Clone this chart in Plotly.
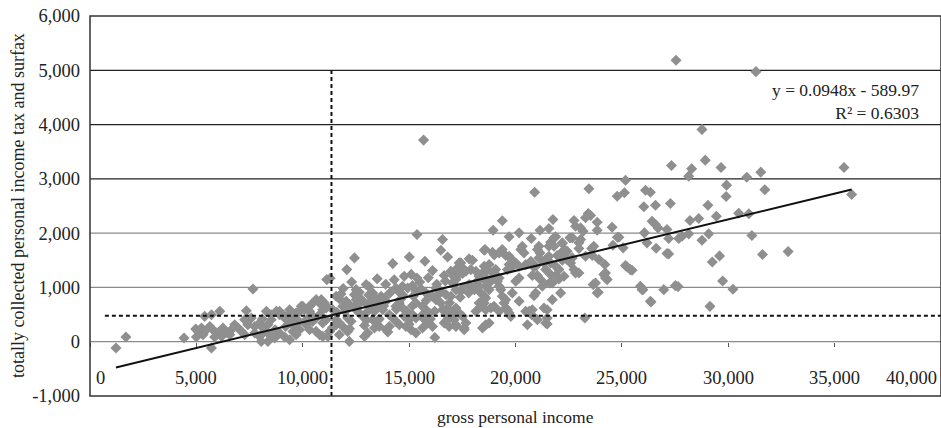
import plotly.graph_objects as go

# ---------------- data ----------------
# gross personal income (x) and totally collected tax (y), grouped by region
income_right = [27545, 31300, 15680, 28765, 28920, 27330, 28280, 28140, 29660, 30870,
                31530, 35440, 35800, 29920, 29900, 31720, 27280, 29045, 29440, 30490,
                30970, 28200, 28610, 27670, 27830, 28140, 28765, 29080, 31110, 27200,
                27200, 29250, 29590, 31610, 32815, 29735, 30220, 27515, 27640, 29140]
tax_right = [5184, 4975, 3714, 3911, 3345, 3247, 3186, 3050, 3210, 3031,
             3124, 3210, 2712, 2884, 2675, 2799, 2546, 2515, 2312, 2367,
             2356, 2232, 2269, 1900, 1943, 1987, 1869, 1987, 1956, 1900,
             1618, 1470, 1581, 1605, 1660, 1120, 965, 1033, 1015, 651]

income_upper = [25170, 23450, 20900, 24780, 25120, 26110, 26340, 26030, 26580, 23420,
                23530, 23290, 23840, 24540, 22750, 22820, 23060, 23180, 23840, 21760,
                19380, 18950, 21150, 21570, 20170, 19700, 20740, 21890, 22560, 23060,
                24790, 26060, 26420, 26580, 26700, 27120, 26180, 26610, 27120, 25060,
                24580, 23680, 23580, 22980, 22430, 22310, 22120, 21960, 22200, 21570,
                21100, 21030, 21150, 20320, 20250, 20400, 19380, 19230, 19540, 18570,
                18920, 19000, 19700, 19820, 21570, 21420, 21650, 22040, 22200, 22430,
                23610, 25250, 25480, 19700, 19780, 19620, 20790, 20870, 21420, 21890,
                22040, 22750, 22820, 18530, 18680, 19070, 24200, 18450, 18600, 19070,
                19230, 19150, 20170, 20010, 20790, 21030, 21100, 21890, 22040, 21600,
                21340, 21260, 24150, 24230, 23650, 23890, 25870, 25990, 26970, 26370,
                18600, 18760, 18370, 18530, 18450, 19230, 19310, 19380, 19540, 19460,
                19850, 19620, 19700, 18840, 18760, 20560, 20640, 20760, 21490, 21490,
                20870, 20950, 23260]
tax_upper = [2976, 2817, 2755, 2681, 2743, 2791, 2755, 2485, 2515, 2362,
             2325, 2282, 2201, 2109, 2232, 2128, 2097, 2035, 2054, 2251,
             2227, 2054, 2054, 2085, 2005, 1932, 1900, 1932, 1913, 1882,
             1925, 2005, 2220, 2159, 2097, 2066, 1821, 1721, 1624, 1729,
             1777, 1758, 1716, 1716, 1666, 1697, 1624, 1587, 1821, 1758,
             1758, 1697, 1636, 1758, 1697, 1636, 1697, 1636, 1587, 1697,
             1648, 1600, 1574, 1513, 1574, 1513, 1452, 1574, 1500, 1513,
             1587, 1378, 1316, 1421, 1360, 1328, 1439, 1378, 1328, 1390,
             1328, 1328, 1267, 1390, 1328, 1328, 1421, 1205, 1175, 1236,
             1175, 1113, 1175, 1113, 1218, 1218, 1175, 1218, 1157, 1083,
             1083, 1020, 1236, 1175, 1052, 910, 1020, 959, 959, 732,
             1020, 959, 898, 836, 744, 1020, 959, 836, 775, 714,
             898, 590, 529, 622, 345, 314, 559, 498, 590, 327,
             849, 898, 437]

income_mid = [15370, 16570, 16490, 18530, 12430, 12070, 14230, 15010, 15740, 16810,
              16100, 17430, 17820, 17980, 11130, 11290, 17200, 17350, 17510, 17670,
              17900, 14770, 15370, 16650, 17200, 17040, 18450, 18600, 12980, 13130,
              12510, 12660, 12430, 11570, 11720, 14380, 14540, 13680, 13840, 13920,
              13600, 13450, 13290, 14690, 14930, 15160, 15320, 15560, 15790, 16260,
              16490, 16730, 16960, 16100, 17200, 17430, 17820, 18060, 18210, 10870,
              11020, 11100, 10630, 10470, 10320, 10000, 10080, 9850, 9690, 9540,
              9380, 9460, 9380, 9690, 9850, 9690, 9540, 10160, 10320, 10630,
              10790, 10940, 11260, 11180, 11570, 11720, 11880, 11570, 12110, 12270,
              12110, 12190, 12510, 12660, 12820, 13050, 13210, 13370, 12980, 12900,
              13050, 13290, 13450, 13600, 13370, 14070, 14230, 14380, 14540, 14070,
              13920, 14770, 15010, 15160, 15320, 14850, 15090, 15320, 15630, 15790,
              15950, 15630, 15630, 15870, 16100, 16210, 16570, 16730, 16810, 16650,
              17200, 17350, 17510, 17670, 17590, 18140, 18370, 18530, 18600, 16260,
              16490, 15320, 15160, 14540, 14380, 14690, 13450, 13760, 12040, 12190,
              11880, 12510, 12740, 10940, 10790, 10630, 10470, 10320, 11410, 11100,
              10940, 11720, 18450, 18600, 17200]
tax_mid = [1974, 1882, 1685, 1685, 1544, 1328, 1439, 1562, 1482, 1562,
           1310, 1452, 1526, 1500, 1144, 1168, 1328, 1279, 1255, 1297,
           1328, 1205, 1175, 1218, 1144, 1083, 1267, 1144, 1052, 1009,
           959, 910, 867, 836, 793, 991, 910, 836, 806, 744,
           744, 788, 898, 1020, 991, 1033, 928, 972, 898, 991,
           928, 867, 836, 836, 959, 928, 1052, 991, 1113, 775,
           714, 651, 775, 714, 651, 651, 590, 559, 529, 498,
           529, 437, 375, 314, 221, 129, 190, 314, 221, 190,
           129, 98, 190, 98, 406, 345, 282, 314, 437, 375,
           190, 6, 590, 529, 467, 683, 622, 559, 529, 98,
           160, 406, 345, 282, 253, 498, 437, 375, 314, 282,
           221, 467, 406, 498, 437, 282, 221, 160, 651, 590,
           529, 498, 253, 345, 282, 79, 590, 498, 406, 345,
           622, 529, 467, 345, 253, 559, 651, 714, 590, 775,
           714, 714, 664, 714, 651, 622, 651, 590, 744, 683,
           651, 775, 775, 590, 498, 437, 375, 559, 590, 406,
           345, 129, 253, 314, 282]

income_left = [1220, 1690, 4420, 5000, 7660, 5710, 4970, 5080, 5240, 5390,
               5310, 5390, 5710, 6100, 5630, 5780, 5940, 6100, 6250, 6410,
               6570, 6180, 5860, 6650, 6800, 6960, 7120, 7270, 7350, 7270,
               7580, 7420, 7740, 7970, 8130, 8360, 8520, 8760, 8910, 9150,
               9540, 7740, 7970, 8210, 8440, 8680, 8910, 9150, 9380, 8360,
               8050, 8290, 8520, 8910, 9070, 9380, 9930, 10870, 11100]
tax_left = [-116, 87, 68, 87, 972, -116, 234, 190, 253, 190,
            129, 467, 498, 559, 282, 221, 160, 190, 253, 172,
            129, 98, 87, 221, 314, 253, 190, 129, 572, 406,
            437, 314, 282, 345, 253, 314, 406, 559, 498, 437,
            314, 160, 98, 190, 129, 68, 160, 87, 37, 6,
            6, 559, 498, 559, 498, 590, 651, 683, 622]

income_extra = [21810, 21650, 22200, 22670, 22980, 24860, 21810, 22350, 22670, 17350,
                17510, 18140, 18290, 17200, 16960, 20010, 20170, 20480, 20720, 20950,
                21100, 21340, 18760, 18920, 18530, 18760, 19000, 18290, 18060, 22350,
                22590, 22980, 21650, 21730, 22280, 23290, 23920, 24230, 24310, 23760,
                23840, 25170, 25400, 25950, 26340, 17590, 17120, 17200, 16880, 16730,
                18290, 18600, 18990, 19230, 19540, 19780, 20170, 20480, 20790, 21030,
                21420, 21340, 21490, 22120, 21730]
tax_extra = [1913, 1832, 1808, 1913, 1821, 1925, 1758, 1636, 1544, 1452,
             1360, 1297, 1205, 1175, 1297, 1452, 1390, 1421, 1482, 1390,
             1544, 1452, 1421, 1267, 1144, 1083, 1175, 1020, 959, 1544,
             1452, 1267, 1236, 1083, 1205, 1574, 1513, 1267, 1144, 1083,
             898, 1402, 1328, 959, 744, 221, 406, 314, 282, 375,
             714, 806, 651, 559, 622, 467, 744, 559, 590, 406,
             345, 622, 437, 898, 775]

# extra points in the dense core (11,000 - 18,000)
income_core = [11900, 12300, 12800, 13100, 13500, 13900, 14300, 14700, 15100, 15500,
               15900, 16300, 16700, 17100, 17500, 11600, 12000, 12600, 13300, 13800,
               14100, 14600, 15200, 15800, 16400, 16900, 17400, 17800, 12200, 12900,
               13600, 14400, 15000, 15700, 16200, 16800, 11400, 11800, 12400, 13000,
               14000, 14900, 16000, 17000, 10500, 10200, 9800, 9200, 8700, 8100]
tax_core = [980, 1100, 760, 860, 1160, 1060, 1140, 860, 1240, 1100,
            1180, 1060, 1120, 1200, 980, 540, 560, 680, 760, 660,
            900, 780, 840, 760, 880, 720, 820, 900, 240, 300,
            420, 600, 320, 420, 560, 620, 260, 880, 640, 400,
            180, 560, 420, 520, 460, 420, 380, 280, 220, 420]

income = income_right + income_upper + income_mid + income_left + income_extra + income_core
tax = tax_right + tax_upper + tax_mid + tax_left + tax_extra + tax_core
assert len(income) == len(tax)

# regression reported on the chart
trend_slope = 0.0948
trend_intercept = -589.97
r_squared = 0.6303

# reference (mean) lines
mean_income = 11350
mean_tax = 480
mean_income_span = [-1000, 5000]   # y extent of the vertical dashed line
mean_tax_span = [700, 40000]       # x extent of the horizontal dashed line

x_ticks = [0, 5000, 10000, 15000, 20000, 25000, 30000, 35000, 40000]
y_ticks = [-1000, 0, 1000, 2000, 3000, 4000, 5000, 6000]

x_title = "gross personal income"
y_title = "totally collected personal income tax and surfax"

# ---------------- figure ----------------
FONT = "Liberation Serif"
TXT = "#222222"

fig = go.Figure()

fig.add_trace(go.Scatter(
    x=income, y=tax, mode="markers",
    marker=dict(symbol="diamond", size=8.5, color="#8f8f8f", line=dict(width=0)),
    hoverinfo="skip", showlegend=False))

trend_x = [min(income), max(income)]
trend_y = [trend_slope * v + trend_intercept for v in trend_x]
fig.add_trace(go.Scatter(
    x=trend_x, y=trend_y, mode="lines",
    line=dict(color="#111111", width=2), hoverinfo="skip", showlegend=False))

fig.add_trace(go.Scatter(
    x=[mean_income, mean_income], y=mean_income_span, mode="lines",
    line=dict(color="#111111", width=2, dash="4px,3px"),
    hoverinfo="skip", showlegend=False))
fig.add_trace(go.Scatter(
    x=mean_tax_span, y=[mean_tax, mean_tax], mode="lines",
    line=dict(color="#111111", width=2, dash="4px,3px"),
    hoverinfo="skip", showlegend=False))

y0, y1 = y_ticks[0], y_ticks[-1]
zero_pos = (0 - y0) / (y1 - y0)

shapes = []
for v in y_ticks[1:-1]:
    shapes.append(dict(type="line", xref="paper", x0=0, x1=1, yref="y", y0=v, y1=v,
                       line=dict(color="#222222" if v >= 3000 else "#8a8a8a", width=1.3),
                       layer="below"))
shapes.append(dict(type="rect", xref="paper", yref="paper", x0=0, x1=1, y0=0, y1=1,
                   line=dict(color="#333333", width=1.5), layer="above"))

annotations = []
for i, v in enumerate(x_ticks):
    shift = 0
    if i == 0:
        shift = 10
    elif i == len(x_ticks) - 1:
        shift = -30
    annotations.append(dict(x=v, y=0, xref="x", yref="y", text=f"{v:,}",
                            showarrow=False, yshift=-36, xshift=shift,
                            xanchor="center", yanchor="middle",
                            font=dict(family=FONT, size=18.5, color=TXT)))

annotations.append(dict(x=0.5, y=0, xref="paper", yref="paper", text=x_title,
                        showarrow=False, yshift=-21, yanchor="middle",
                        font=dict(family=FONT, size=17.5, color=TXT)))
annotations.append(dict(x=-72 / 851, y=0.5, xref="paper", yref="paper", text=y_title,
                        showarrow=False, textangle=-90, xanchor="center", yanchor="middle",
                        font=dict(family=FONT, size=18, color=TXT)))
annotations.append(dict(x=0.976, y=0.776, xref="paper", yref="paper",
                        text=f"y = {trend_slope}x - {abs(trend_intercept)}<br>R² = {r_squared}",
                        showarrow=False, xanchor="right", yanchor="middle", align="right",
                        font=dict(family=FONT, size=17.5, color=TXT)))

fig.update_layout(
    width=941, height=428,
    margin=dict(l=90, r=0, t=16, b=32),
    paper_bgcolor="white", plot_bgcolor="white",
    showlegend=False,
    xaxis=dict(range=[x_ticks[0], x_ticks[-1]], showgrid=False, zeroline=False,
               showline=False, anchor="free", position=zero_pos,
               tickvals=x_ticks, ticks="outside", ticklen=4, tickwidth=1,
               tickcolor="#555555", showticklabels=False, fixedrange=True),
    yaxis=dict(range=[y0, y1], showgrid=False, zeroline=False, showline=False,
               tickvals=y_ticks, ticktext=[f"{v:,}" for v in y_ticks],
               ticks="", ticklabelstandoff=9,
               tickfont=dict(family=FONT, size=18.5, color=TXT), fixedrange=True),
    shapes=shapes,
    annotations=annotations,
)

fig.write_html(
    "out.html",
    config={"displayModeBar": False},
    post_script="document.body.style.margin='0';document.body.style.overflow='hidden';",
)
